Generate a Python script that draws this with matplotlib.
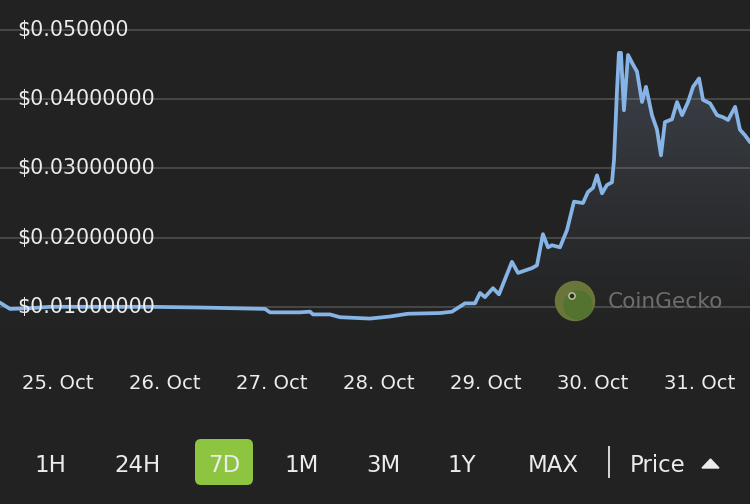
import matplotlib
matplotlib.use("Agg")
import matplotlib.pyplot as plt
import matplotlib.transforms as mtransforms
from matplotlib.patches import FancyBboxPatch, Circle, Polygon
import numpy as np

# ---- data (time in days of October, price in USD) ----
times = [24.464, 24.557, 24.744, 24.931, 25.398, 25.865, 26.333, 26.940, 26.987,
         27.267, 27.361, 27.389, 27.548, 27.641, 27.921, 28.108, 28.277, 28.576,
         28.688, 28.809, 28.903, 28.950, 28.996, 29.071, 29.127, 29.248, 29.305,
         29.436, 29.482, 29.538, 29.585, 29.622, 29.697, 29.763, 29.828, 29.912,
         29.959, 30.006, 30.043, 30.090, 30.136, 30.183, 30.202, 30.230, 30.248,
         30.267, 30.295, 30.333, 30.380, 30.417, 30.464, 30.501, 30.557, 30.604,
         30.641, 30.678, 30.744, 30.791, 30.838, 30.894, 30.941, 30.997, 31.034,
         31.100, 31.165, 31.221, 31.268, 31.334, 31.379, 31.426, 31.473]
prices = [0.0106, 0.0097, 0.0098, 0.0100, 0.0100, 0.0100, 0.0099, 0.0097, 0.0092,
          0.0092, 0.0093, 0.0089, 0.0089, 0.0085, 0.0083, 0.0086, 0.0090, 0.0091,
          0.0093, 0.0105, 0.0105, 0.0120, 0.0114, 0.0127, 0.0118, 0.0165, 0.0149,
          0.0156, 0.0160, 0.0205, 0.0186, 0.0189, 0.0186, 0.0211, 0.0252, 0.0250,
          0.0266, 0.0272, 0.0290, 0.0264, 0.0276, 0.0280, 0.0312, 0.0413, 0.0467,
          0.0467, 0.0384, 0.0464, 0.0450, 0.0440, 0.0396, 0.0418, 0.0377, 0.0356,
          0.0319, 0.0367, 0.0371, 0.0396, 0.0377, 0.0396, 0.0418, 0.0430, 0.0399,
          0.0394, 0.0377, 0.0374, 0.0370, 0.0389, 0.0356, 0.0348, 0.0338]

y_ticks = [0.01, 0.02, 0.03, 0.04, 0.05]
y_tick_labels = ["$0.01000000", "$0.02000000", "$0.03000000", "$0.04000000", "$0.050000"]
x_ticks = [25, 26, 27, 28, 29, 30, 31]
x_tick_labels = ["25. Oct", "26. Oct", "27. Oct", "28. Oct", "29. Oct", "30. Oct", "31. Oct"]
buttons = ["1H", "24H", "7D", "1M", "3M", "1Y", "MAX"]
active_button = "7D"

BG = "#222222"
LINE = "#86b4e6"
GRID = "#4e4e4e"
TXT = "#ececec"

fig = plt.figure(figsize=(7.5, 5.04), dpi=100, facecolor=BG)
ax = fig.add_axes([0, (504 - 350) / 504, 1, 350 / 504])
ax.set_facecolor(BG)
ax.set_xlim(24.464, 31.473)
ax.set_ylim(0.00376, 0.05434)
for s in ax.spines.values():
    s.set_visible(False)

# grid lines
for v in y_ticks:
    ax.axhline(v, color=GRID, lw=1.2, zorder=1)

# gradient fill under line
t = np.array(times)
p = np.array(prices)
y0 = ax.get_ylim()[0]
poly = ax.fill_between(t, p, y0, color="none", lw=0)
grad = np.zeros((256, 1, 4))
grad[:, 0, 0] = 0.60
grad[:, 0, 1] = 0.68
grad[:, 0, 2] = 0.82
grad[:, 0, 3] = np.linspace(0.0, 0.24, 256) ** 1.3 / (0.24 ** 0.3)
im = ax.imshow(grad, extent=[t[0], t[-1], y0, 0.047], aspect="auto",
               origin="lower", zorder=2, interpolation="bilinear")
im.set_clip_path(poly.get_paths()[0], ax.transData)
ax.set_xlim(24.464, 31.473)
ax.set_ylim(0.00376, 0.05434)

ax.plot(t, p, color=LINE, lw=2.7, zorder=3, solid_joinstyle="round",
        solid_capstyle="round")

# y labels inside the plot
trans = mtransforms.blended_transform_factory(ax.transAxes, ax.transData)
for v, lab in zip(y_ticks, y_tick_labels):
    ax.text(17.3 / 750, v, lab, transform=trans, ha="left", va="center",
            fontsize=14.8, color=TXT, zorder=5)
ax.set_yticks([])

ax.set_xticks(x_ticks)
ax.set_xticklabels(x_tick_labels, fontsize=14.1, color=TXT)
ax.tick_params(axis="x", length=0, pad=17)

# overlay in pixel coordinates for UI elements
ov = fig.add_axes([0, 0, 1, 1], facecolor="none")
ov.set_xlim(0, 750)
ov.set_ylim(504, 0)
ov.axis("off")

# CoinGecko watermark
ov.add_patch(Circle((575, 301), 19.5, color="#6e7a3c", alpha=0.95, zorder=4))
ov.add_patch(Circle((578, 305), 14, color="#52732e", alpha=0.95, zorder=4))
ov.add_patch(Circle((572, 296), 3.2, color="#b9c196", zorder=5))
ov.add_patch(Circle((572, 296), 1.6, color="#2a2a2a", zorder=6))
ov.text(608, 302, "CoinGecko", fontsize=15.6, color="#6e6e6e", ha="left",
        va="center", zorder=5)

# buttons
btn_x = [50, 137, 224, 302, 383, 462, 553]
for bx, b in zip(btn_x, buttons):
    if b == active_button:
        ov.add_patch(FancyBboxPatch((195 + 6, 439 + 6), 58 - 12, 46 - 12,
                                    boxstyle="round,pad=6", color="#8dc540", lw=0))
    ov.text(bx, 463, b, fontsize=16.5, color=TXT, ha="center", va="center_baseline")
ov.plot([609, 609], [447, 477], color="#d8d8d8", lw=1.4)
ov.text(630, 463, "Price", fontsize=16.5, color=TXT, ha="left", va="center_baseline")
ov.add_patch(Polygon([[702, 468], [719, 468], [710.5, 459]], closed=True, color=TXT))

fig.savefig("out.png", dpi=100, facecolor=BG)
